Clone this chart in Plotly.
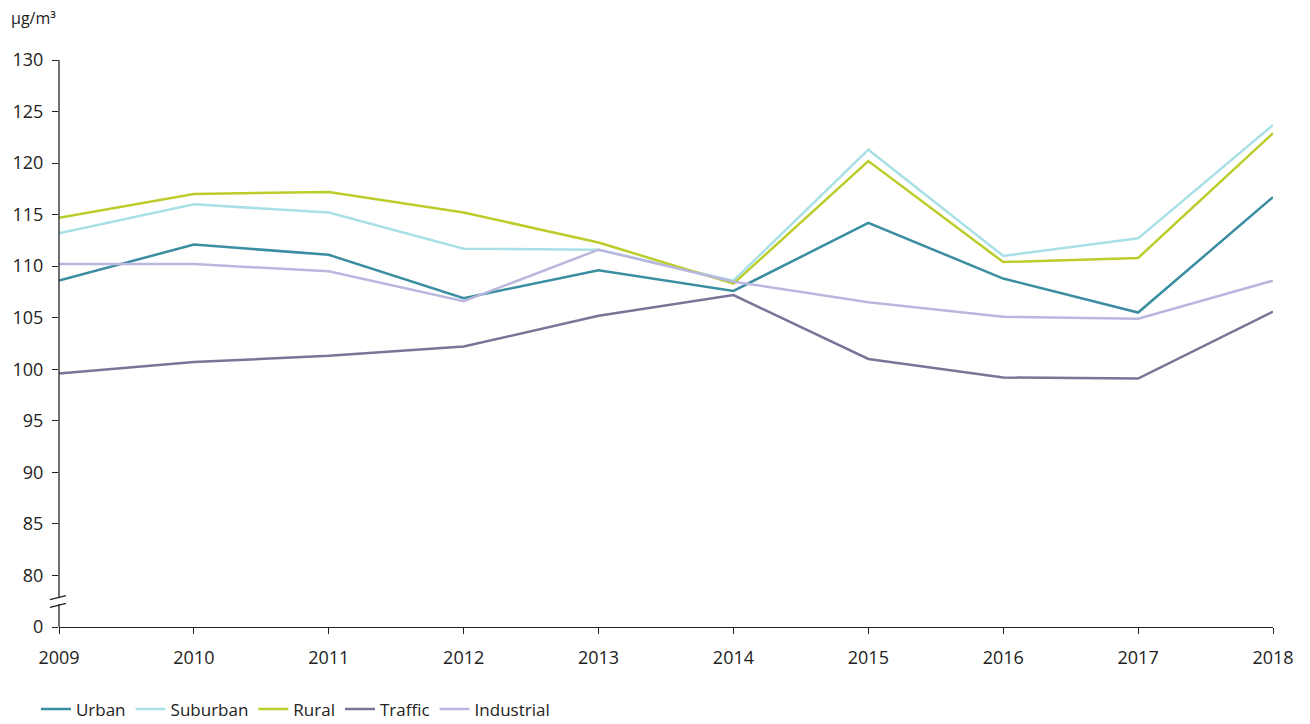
import plotly.graph_objects as go

years = [2009, 2010, 2011, 2012, 2013, 2014, 2015, 2016, 2017, 2018]
urban = [108.6, 112.1, 111.1, 106.9, 109.6, 107.6, 114.2, 108.8, 105.5, 116.7]
suburban = [113.2, 116.0, 115.2, 111.7, 111.6, 108.6, 121.3, 111.0, 112.7, 123.7]
rural = [114.7, 117.0, 117.2, 115.2, 112.3, 108.3, 120.2, 110.4, 110.8, 122.9]
traffic = [99.6, 100.7, 101.3, 102.2, 105.2, 107.2, 101.0, 99.2, 99.1, 105.6]
industrial = [110.2, 110.2, 109.5, 106.6, 111.6, 108.5, 106.5, 105.1, 104.9, 108.6]

# broken axis: 0 is drawn at the 75 slot
y_ticks = [75, 80, 85, 90, 95, 100, 105, 110, 115, 120, 125, 130]
y_labels = ['0', '80', '85', '90', '95', '100', '105', '110', '115', '120', '125', '130']

series = [
    ('Urban', urban, '#3b8da1'),
    ('Suburban', suburban, '#a9e0e6'),
    ('Rural', rural, '#bccd2b'),
    ('Traffic', traffic, '#7c7398'),
    ('Industrial', industrial, '#bab7de'),
]

fig = go.Figure()
for name, vals, col in series:
    fig.add_trace(go.Scatter(x=years, y=vals, name=name, mode='lines',
                             line=dict(color=col, width=2.5)))

px = 1 / 1214
shapes = [
    # y axis line with a gap for the break
    dict(type='line', xref='paper', yref='y', x0=0, x1=0, y0=75, y1=77.2,
         line=dict(color='#222', width=1.3)),
    dict(type='line', xref='paper', yref='y', x0=0, x1=0, y0=77.85, y1=130,
         line=dict(color='#222', width=1.3)),
    dict(type='line', xref='paper', yref='y', x0=-9 * px, x1=7 * px, y0=77.65, y1=78.05,
         line=dict(color='#222', width=1.3)),
    dict(type='line', xref='paper', yref='y', x0=-9 * px, x1=7 * px, y0=76.9, y1=77.3,
         line=dict(color='#222', width=1.3)),
]

# page body has an 8px margin, so left/top margins are 8px smaller
fig.update_layout(
    width=1310, height=724,
    margin=dict(l=51, r=45, t=52, b=105),
    plot_bgcolor='white', paper_bgcolor='white',
    font=dict(family='Open Sans', size=18, color='#222'),
    showlegend=True,
    legend=dict(orientation='h', x=-0.019, xanchor='left', yref='container',
                y=0.031, yanchor='middle',
                font=dict(family='Open Sans', size=17), itemwidth=30),
    shapes=shapes,
    annotations=[dict(text='μg/m³', xref='paper', yref='paper', x=-50 * px, y=1.074,
                      xanchor='left', yanchor='middle', showarrow=False,
                      font=dict(size=16))],
)
fig.update_xaxes(range=[2009, 2018], tickvals=years, showline=True, linecolor='#222',
                 linewidth=1.3, ticks='outside', ticklen=6, tickcolor='#222',
                 ticklabelstandoff=8, showgrid=False, zeroline=False, automargin=False)
fig.update_yaxes(range=[75, 130], tickvals=y_ticks, ticktext=y_labels, showline=False,
                 ticks='outside', ticklen=6, tickcolor='#222', ticklabelstandoff=5,
                 showgrid=False, zeroline=False, automargin=False)

fig.write_html('out.html')
